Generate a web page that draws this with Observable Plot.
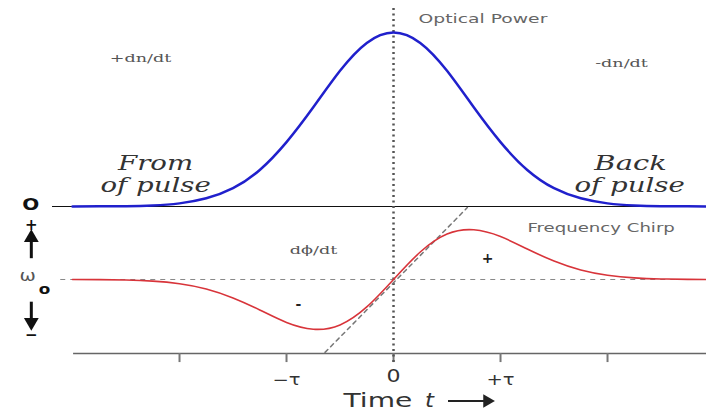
<!DOCTYPE html>
<html>
<head>
<meta charset="utf-8">
<script src="https://cdn.jsdelivr.net/npm/d3@7"></script>
<script src="https://cdn.jsdelivr.net/npm/@observablehq/plot@0.6"></script>
<style>
  html, body { margin: 0; padding: 0; background: #fff; }
  #chart svg { display: block; }
</style>
</head>
<body>
<div id="chart"></div>
<script>
// Time in units of tau
const times = [-3.0, -2.75, -2.5, -2.25, -2.0, -1.75, -1.5, -1.25, -1.0, -0.75, -0.5, -0.25, 0,
                0.25, 0.5, 0.75, 1.0, 1.25, 1.5, 1.75, 2.0, 2.25, 2.5, 2.75, 2.93];
// Optical power (normalised, peak = 1)
const power = [0.0, 0.001, 0.002, 0.006, 0.018, 0.047, 0.105, 0.21, 0.37, 0.57, 0.78, 0.94, 1.0,
               0.94, 0.78, 0.57, 0.37, 0.21, 0.105, 0.047, 0.018, 0.006, 0.002, 0.001, 0.0];
// Frequency chirp relative to omega_0 (normalised, max = 1)
const chirp = [0.0, -0.003, -0.011, -0.033, -0.085, -0.19, -0.37, -0.61, -0.86, -0.996, -0.91, -0.55, 0,
               0.55, 0.91, 0.996, 0.86, 0.61, 0.37, 0.19, 0.085, 0.033, 0.011, 0.003, 0.0];
// Tangent line at t = 0 (chirp units)
const tangentT = [-0.64, 0.69];
const tangentChirp = [-1.46, 1.44];
// Axis ticks
const tickValues = [-2, -1, 0, 1, 2];
const tickLabels = [{t: -1, label: "\u2212\u03c4"}, {t: 0, label: "0"}, {t: 1, label: "+\u03c4"}];

// Layout constants (data units)
const CHIRP_BASE = -0.4195;   // omega_0 level
const CHIRP_AMP = 0.287;      // chirp amplitude in y units
const AXIS_Y = -0.845;

const powerData = times.map((t, i) => ({t, v: power[i]}));
const chirpData = times.map((t, i) => ({t, v: CHIRP_BASE + CHIRP_AMP * chirp[i]}));
const tangentData = tangentT.map((t, i) => ({t, v: CHIRP_BASE + CHIRP_AMP * tangentChirp[i]}));

const grayLabels = [
  {t: 0.234, y: 1.08, text: "Optical Power"},
  {t: 1.252, y: -0.121, text: "Frequency Chirp"}
];
const smallLabels = [
  {t: -2.364, y: 0.851, text: "+dn/dt"},
  {t: 2.131, y: 0.822, text: "-dn/dt"},
  {t: -0.748, y: -0.253, text: "d\u03d5/dt"}
];
const pulseLabels = [
  {t: -2.224, y: 0.245, text: "From"},
  {t: -2.224, y: 0.118, text: "of pulse"},
  {t: 2.215, y: 0.245, text: "Back"},
  {t: 2.206, y: 0.118, text: "of pulse"}
];
const signLabels = [
  {t: 0.879, y: -0.299, text: "+"},
  {t: -0.888, y: -0.563, text: "-"}
];
const leftLabels = [
  {t: -3.39, y: 0.008, text: "O", size: 16},
  {t: -3.385, y: -0.105, text: "+", size: 15},
  {t: -3.385, y: -0.741, text: "\u2212", size: 15}
];

// Horizontal stretch of each text (the reference's lettering is wide and flat)
const stretch = {
  "Optical Power": 1.5, "Frequency Chirp": 1.45,
  "+dn/dt": 1.6, "-dn/dt": 1.6, "d\u03d5/dt": 1.6,
  "From": 1.38, "of pulse": 1.38, "Back": 1.45,
  "O": 1.25, "\u03c9": 1.3, "o": 1.2,
  "\u2212\u03c4": 1.3, "0": 1.3, "+\u03c4": 1.3,
  "Time": 1.48, "t": 1.2
};

const chart = Plot.plot({
  width: 706,
  height: 412,
  marginLeft: 0, marginRight: 0, marginTop: 0, marginBottom: 0,
  x: {domain: [-3.673, 2.925], axis: null},
  y: {domain: [-1.184, 1.184], axis: null},
  style: {background: "#fff"},
  marks: [
    // baselines
    Plot.ruleY([0], {x1: -3.187, x2: 2.925, stroke: "#111", strokeWidth: 1.2}),
    Plot.ruleY([CHIRP_BASE], {x1: -3.11, x2: 2.925, stroke: "#888", strokeWidth: 1, strokeDasharray: "5,5"}),
    Plot.ruleY([AXIS_Y], {x1: -2.99, x2: 2.925, stroke: "#666", strokeWidth: 1.5}),
    Plot.ruleX(tickValues, {y1: AXIS_Y, y2: -0.897, stroke: "#777", strokeWidth: 2}),
    // vertical dotted line at t = 0
    Plot.ruleX([0], {y1: 1.138, y2: -0.897, stroke: "#555", strokeWidth: 2.5, strokeDasharray: "2,3.5"}),
    // tangent
    Plot.line(tangentData, {x: "t", y: "v", stroke: "#777", strokeWidth: 1.5, strokeDasharray: "4,4"}),
    // curves
    Plot.line(powerData, {x: "t", y: "v", stroke: "#2020cc", strokeWidth: 2.5, curve: "natural"}),
    Plot.line(chirpData, {x: "t", y: "v", stroke: "#d8343a", strokeWidth: 1.6, curve: "natural"}),
    // text labels
    Plot.text(grayLabels, {x: "t", y: "y", text: "text", textAnchor: "start", fill: "#666", fontSize: 12.5,
      fontFamily: "DejaVu Sans"}),
    Plot.text(smallLabels, {x: "t", y: "y", text: "text", fill: "#555", fontSize: 11, fontFamily: "DejaVu Serif"}),
    Plot.text(pulseLabels, {x: "t", y: "y", text: "text", fill: "#333", fontSize: 20,
      fontFamily: "DejaVu Serif", fontStyle: "italic"}),
    Plot.text(signLabels, {x: "t", y: "y", text: "text", fill: "#222", fontSize: 14, fontFamily: "DejaVu Sans", fontWeight: "bold"}),
    Plot.text(leftLabels, {x: "t", y: "y", text: "text", fill: "#111", fontSize: d => d.size,
      fontFamily: "DejaVu Sans", fontWeight: "bold"}),
    // omega_0
    Plot.text([{t: -3.42, y: -0.402}], {x: "t", y: "y", text: () => "\u03c9", fontSize: 15, fill: "#555", fontFamily: "DejaVu Sans"}),
    Plot.text([{t: -3.262, y: -0.477}], {x: "t", y: "y", text: () => "o", fontSize: 14, fill: "#111", fontFamily: "DejaVu Sans", fontWeight: "bold"}),
    // up / down arrows on the left
    Plot.ruleX([-3.385], {y1: -0.30, y2: -0.185, stroke: "#111", strokeWidth: 3}),
    Plot.dot([{t: -3.385, y: -0.18}], {x: "t", y: "y", symbol: "triangle", r: 5.5, fill: "#111", stroke: "none"}),
    Plot.ruleX([-3.385], {y1: -0.55, y2: -0.66, stroke: "#111", strokeWidth: 3}),
    Plot.dot([{t: -3.385, y: -0.665}], {x: "t", y: "y", symbol: "triangle", rotate: 180, r: 5.5, fill: "#111", stroke: "none"}),
    // tick labels
    Plot.text(tickLabels, {x: "t", y: d => d.t === 0 ? -0.98 : -1.0, text: "label", fill: "#333",
      fontSize: d => d.t === 0 ? 17 : 15, fontFamily: "DejaVu Sans"}),
    // axis title: Time t ->
    Plot.text([{t: -0.467, y: -1.118}], {x: "t", y: "y", text: () => "Time", textAnchor: "start", fontSize: 19, fill: "#333",
      fontFamily: "DejaVu Sans"}),
    Plot.text([{t: 0.336, y: -1.118}], {x: "t", y: "y", text: () => "t", fontSize: 19, fill: "#333", fontFamily: "DejaVu Sans",
      fontStyle: "italic"}),
    Plot.ruleY([-1.118], {x1: 0.514, x2: 0.85, stroke: "#222", strokeWidth: 2}),
    Plot.dot([{t: 0.875, y: -1.118}], {x: "t", y: "y", symbol: "triangle", rotate: 90, r: 5, fill: "#222", stroke: "none"})
  ]
});

// Widen the glyphs of each text around its own anchor point.
d3.select(chart).selectAll("text").each(function() {
  const el = d3.select(this);
  const s = stretch[el.text()];
  if (!s) return;
  const tr = el.attr("transform");
  if (tr && tr.includes("translate")) {
    el.attr("transform", tr + ` scale(${s},1)`);
  } else {
    const x = +(el.attr("x") || 0), y = +(el.attr("y") || 0);
    el.attr("x", null).attr("y", null)
      .attr("transform", `translate(${x},${y}) scale(${s},1)` + (tr ? " " + tr : ""));
  }
});

document.getElementById("chart").appendChild(chart);
</script>
</body>
</html>
